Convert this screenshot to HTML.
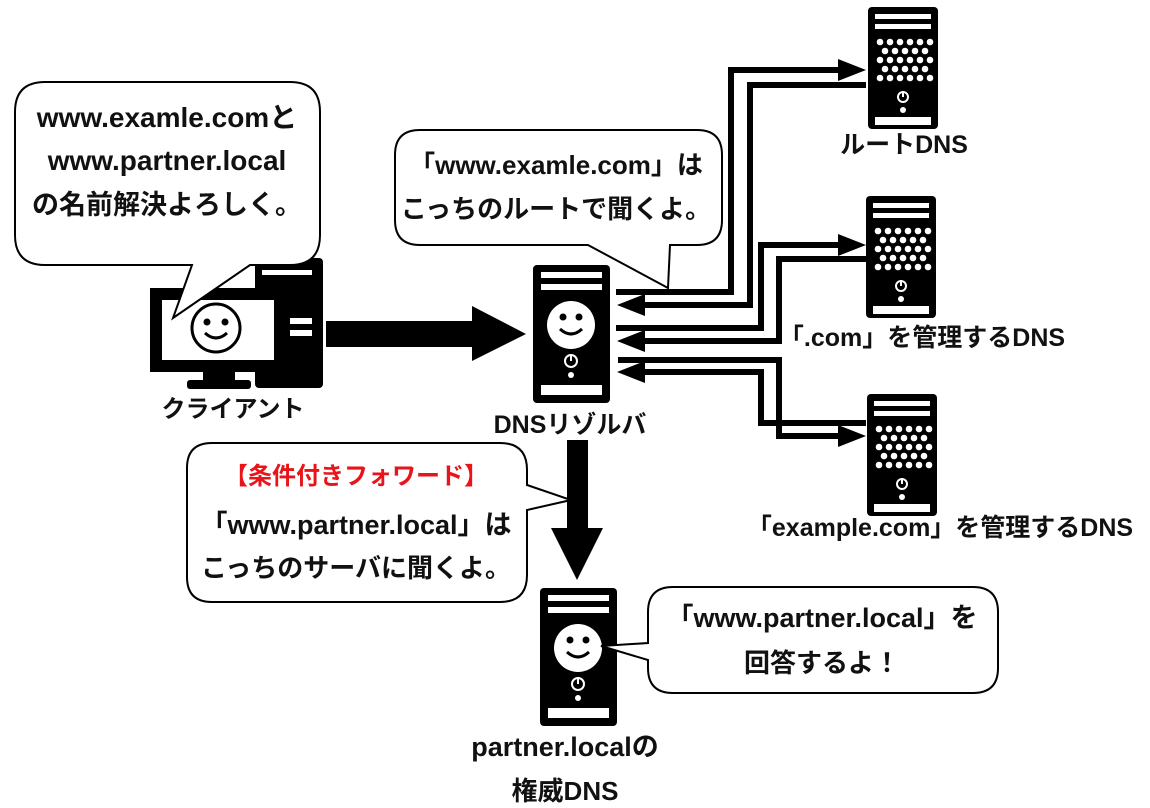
<!DOCTYPE html>
<html><head><meta charset="utf-8"><style>
html,body{margin:0;padding:0;background:#fff;}
svg{display:block;}
text{font-family:"Liberation Sans","Noto Sans CJK JP",sans-serif;font-weight:bold;fill:#111;}
</style></head><body>
<svg width="1150" height="808" viewBox="0 0 1150 808" xmlns="http://www.w3.org/2000/svg">
<defs>
<g id="dots" fill="#fff">
  <circle cx="12" cy="35" r="3.3"/><circle cx="22" cy="35" r="3.3"/><circle cx="32" cy="35" r="3.3"/><circle cx="42" cy="35" r="3.3"/><circle cx="52" cy="35" r="3.3"/><circle cx="62" cy="35" r="3.3"/>
  <circle cx="17" cy="44" r="3.3"/><circle cx="27" cy="44" r="3.3"/><circle cx="37" cy="44" r="3.3"/><circle cx="47" cy="44" r="3.3"/><circle cx="57" cy="44" r="3.3"/>
  <circle cx="12" cy="53" r="3.3"/><circle cx="22" cy="53" r="3.3"/><circle cx="32" cy="53" r="3.3"/><circle cx="42" cy="53" r="3.3"/><circle cx="52" cy="53" r="3.3"/><circle cx="62" cy="53" r="3.3"/>
  <circle cx="17" cy="62" r="3.3"/><circle cx="27" cy="62" r="3.3"/><circle cx="37" cy="62" r="3.3"/><circle cx="47" cy="62" r="3.3"/><circle cx="57" cy="62" r="3.3"/>
  <circle cx="12" cy="71" r="3.3"/><circle cx="22" cy="71" r="3.3"/><circle cx="32" cy="71" r="3.3"/><circle cx="42" cy="71" r="3.3"/><circle cx="52" cy="71" r="3.3"/><circle cx="62" cy="71" r="3.3"/>
</g>
<g id="srv">
  <rect x="0" y="0" width="70" height="122" rx="4" fill="#000"/>
  <rect x="7" y="7" width="56" height="5" fill="#fff"/>
  <rect x="7" y="17" width="56" height="5" fill="#fff"/>
  <use href="#dots"/>
  <circle cx="35" cy="90" r="5" fill="none" stroke="#fff" stroke-width="2"/>
  <line x1="35" y1="84" x2="35" y2="90" stroke="#fff" stroke-width="2"/>
  <circle cx="35" cy="103" r="3" fill="#fff"/>
  <rect x="7" y="110" width="56" height="8" fill="#fff"/>
</g>
<g id="fsrv">
  <rect x="0" y="0" width="77" height="138" rx="4" fill="#000"/>
  <rect x="8" y="7" width="61" height="6" fill="#fff"/>
  <rect x="8" y="19" width="61" height="6" fill="#fff"/>
  <circle cx="38" cy="60" r="24" fill="#fff"/>
  <circle cx="30" cy="52" r="3.5" fill="#000"/><circle cx="46" cy="52" r="3.5" fill="#000"/>
  <path d="M27 64 Q38 74 49 64" fill="none" stroke="#000" stroke-width="3"/>
  <circle cx="38" cy="96" r="6" fill="none" stroke="#fff" stroke-width="2"/>
  <line x1="38" y1="89" x2="38" y2="96" stroke="#fff" stroke-width="2"/>
  <circle cx="38" cy="110" r="3" fill="#fff"/>
  <rect x="8" y="120" width="61" height="10" fill="#fff"/>
</g>
</defs>

<!-- client PC -->
<rect x="255" y="258" width="68" height="130" rx="4" fill="#000"/>
<rect x="262" y="270" width="50" height="5" fill="#fff"/>
<rect x="290" y="318" width="22" height="6" fill="#fff"/>
<rect x="290" y="330" width="22" height="6" fill="#fff"/>
<rect x="150" y="288" width="134" height="84" fill="#000"/>
<rect x="162" y="300" width="112" height="60" fill="#fff"/>
<rect x="203" y="370" width="32" height="12" fill="#000"/>
<rect x="187" y="380" width="64" height="9" rx="3" fill="#000"/>
<circle cx="216" cy="328" r="24" fill="#fff" stroke="#000" stroke-width="3"/>
<circle cx="207" cy="322" r="3.5" fill="#000"/><circle cx="225" cy="322" r="3.5" fill="#000"/>
<path d="M205 333 Q216 343 227 333" fill="none" stroke="#000" stroke-width="3"/>

<!-- bubble 1 -->
<path d="M45 82 H290 Q320 82 320 112 V235 Q320 265 290 265 H250 L173 318 L192 265 H45 Q15 265 15 235 V112 Q15 82 45 82 Z" fill="#fff" stroke="#000" stroke-width="2"/>
<text x="167" y="127" font-size="28" text-anchor="middle">www.examle.comと</text>
<text x="167" y="170" font-size="28" text-anchor="middle">www.partner.local</text>
<text x="167" y="214" font-size="27" text-anchor="middle">の名前解決よろしく。</text>
<text x="233" y="417" font-size="24" text-anchor="middle">クライアント</text>

<!-- client arrow -->
<path d="M326 321 H472 V306 L526 334 L472 361 V347 H326 Z" fill="#000"/>

<!-- resolver -->
<use href="#fsrv" x="533" y="265"/>
<text x="570" y="433" font-size="25" text-anchor="middle">DNSリゾルバ</text>

<!-- bubble 2 -->
<path d="M420 130 H697 Q722 130 722 155 V220 Q722 245 697 245 H670 L668 288 L588 245 H420 Q395 245 395 220 V155 Q395 130 420 130 Z" fill="#fff" stroke="#000" stroke-width="2"/>
<text x="556" y="174" font-size="26" text-anchor="middle">「www.examle.com」は</text>
<text x="556" y="218" font-size="26" text-anchor="middle">こっちのルートで聞くよ。</text>

<!-- connectors -->
<g fill="none" stroke="#000" stroke-width="6">
  <polyline points="616,292 731,292 731,70 840,70"/>
  <polyline points="866,85 750,85 750,305 640,305"/>
  <polyline points="616,328 761,328 761,245 840,245"/>
  <polyline points="866,259 779,259 779,341 640,341"/>
  <polyline points="618,360 779,360 779,436 840,436"/>
  <polyline points="866,423 761,423 761,372 640,372"/>
</g>
<g fill="#000">
  <path d="M838 59 L866 70 L838 81 Z"/>
  <path d="M838 234 L866 245 L838 256 Z"/>
  <path d="M838 425 L866 436 L838 447 Z"/>
  <path d="M645 294 L617 305 L645 316 Z"/>
  <path d="M645 330 L617 341 L645 352 Z"/>
  <path d="M645 361 L617 372 L645 383 Z"/>
</g>

<!-- servers -->
<use href="#srv" x="868" y="7"/>
<text x="904" y="153" font-size="25" text-anchor="middle">ルートDNS</text>
<use href="#srv" x="866" y="196"/>
<text x="922" y="346" font-size="25" text-anchor="middle">「.com」を管理するDNS</text>
<use href="#srv" x="867" y="394"/>
<text x="940" y="536" font-size="25" text-anchor="middle">「example.com」を管理するDNS</text>

<!-- down arrow -->
<path d="M567 440 H588 V528 H603 L577 580 L551 528 H567 Z" fill="#000"/>

<!-- bubble 3 -->
<path d="M212 443 H500 Q527 443 527 470 V485 L571 500 L527 510 V575 Q527 602 500 602 H212 Q187 602 187 577 V468 Q187 443 212 443 Z" fill="#fff" stroke="#000" stroke-width="2"/>
<text x="356" y="484" font-size="24" text-anchor="middle" style="fill:#e8141a">【条件付きフォワード】</text>
<text x="356" y="534" font-size="27" text-anchor="middle">「www.partner.local」は</text>
<text x="356" y="577" font-size="26" text-anchor="middle">こっちのサーバに聞くよ。</text>

<!-- partner server -->
<use href="#fsrv" x="540" y="588"/>
<text x="565" y="756" font-size="27" text-anchor="middle">partner.localの</text>
<text x="565" y="800" font-size="26" text-anchor="middle">権威DNS</text>

<!-- bubble 4 -->
<path d="M673 587 H973 Q998 587 998 612 V668 Q998 693 973 693 H673 Q648 693 648 668 V660 L601 646 L648 643 V612 Q648 587 673 587 Z" fill="#fff" stroke="#000" stroke-width="2"/>
<text x="822" y="627" font-size="27" text-anchor="middle">「www.partner.local」を</text>
<text x="822" y="672" font-size="26" text-anchor="middle">回答するよ！</text>
</svg>
</body></html>
